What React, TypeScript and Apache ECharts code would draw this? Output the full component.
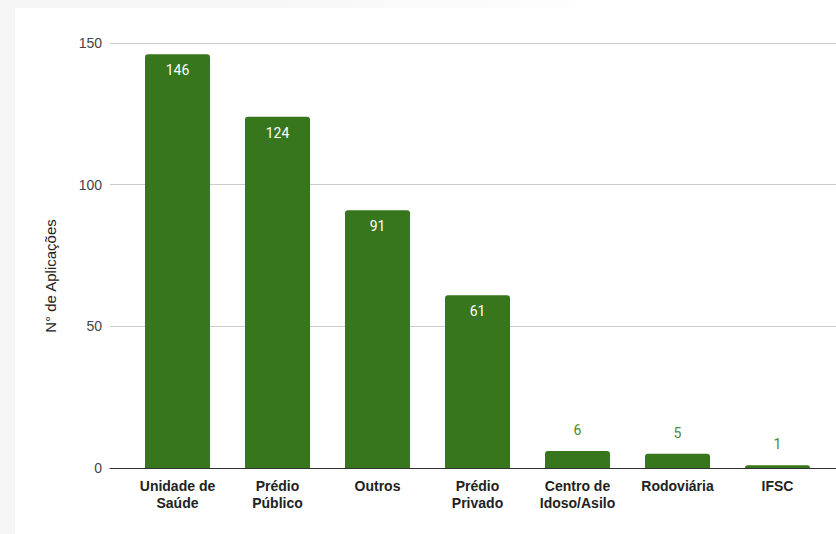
import React, { useEffect, useRef } from "react";
import * as echarts from "echarts";

const categories = [
  "Unidade de\nSaúde",
  "Prédio\nPúblico",
  "Outros",
  "Prédio\nPrivado",
  "Centro de\nIdoso/Asilo",
  "Rodoviária",
  "IFSC",
];
const values = [146, 124, 91, 61, 6, 5, 1];
const yTicks = [0, 50, 100, 150];
const yName = "N° de Aplicações";

const GREEN = "#38761d";

export default function App() {
  const ref = useRef<HTMLDivElement>(null);
  useEffect(() => {
    if (!ref.current) return;
    const chart = echarts.init(ref.current, undefined, { renderer: "svg" });
    const yMin = yTicks[0];
    const yMax = yTicks[yTicks.length - 1];
    const interval = yTicks[1] - yTicks[0];
    chart.setOption({
      animation: false,
      backgroundColor: "#ffffff",
      grid: [
        { left: 95, right: 0, top: 35, bottom: 66 },
        { left: 112.5, right: 8.5, top: 35, bottom: 66 },
      ],
      xAxis: [
        {
          gridIndex: 0,
          type: "category",
          data: categories,
          axisLine: { show: true, lineStyle: { color: "#333333", width: 1 } },
          axisTick: { show: false },
          axisLabel: { show: false },
        },
        {
          gridIndex: 1,
          type: "category",
          data: categories,
          axisLine: { show: false },
          axisTick: { show: false },
          axisLabel: {
            interval: 0,
            margin: 9,
            color: "#222222",
            fontSize: 14,
            fontWeight: "bold",
            fontFamily: "Liberation Sans, Arial, sans-serif",
            lineHeight: 17,
          },
        },
      ],
      yAxis: [
        {
          gridIndex: 0,
          type: "value",
          min: yMin,
          max: yMax,
          interval: interval,
          axisLine: { show: false },
          axisTick: { show: false },
          axisLabel: {
            margin: 8,
            color: "#444444",
            fontSize: 14,
            fontFamily: "Liberation Sans, Arial, sans-serif",
          },
          splitLine: { lineStyle: { color: "#cccccc", width: 1 } },
        },
        {
          gridIndex: 1,
          type: "value",
          min: yMin,
          max: yMax,
          interval: interval,
          show: false,
          splitLine: { show: false },
        },
      ],
      graphic: [
        {
          type: "text",
          x: 35,
          y: 268,
          rotation: Math.PI / 2,
          style: {
            text: yName,
            fill: "#222222",
            fontSize: 15,
            fontFamily: "Liberation Sans, Arial, sans-serif",
            align: "center",
            verticalAlign: "middle",
          },
        },
      ],
      series: [
        {
          type: "bar",
          xAxisIndex: 1,
          yAxisIndex: 1,
          barWidth: 65,
          data: values.map((v) => {
            const inside = v > 20;
            return {
              value: v,
              label: inside
                ? { position: "insideTop", distance: 9, color: "#ffffff" }
                : { position: "top", distance: 14, color: "#4a8a2c" },
            };
          }),
          itemStyle: { color: GREEN, borderRadius: [3, 3, 0, 0] },
          label: {
            show: true,
            fontSize: 14,
            fontFamily: "Roboto, sans-serif",
          },
        },
      ],
    });
    return () => chart.dispose();
  }, []);
  return (
    <div
      style={{
        position: "absolute",
        left: 0,
        top: 0,
        width: 836,
        height: 534,
        background: "#ffffff",
        overflow: "hidden",
      }}
    >
      <div
        style={{
          position: "absolute",
          left: 0,
          top: 0,
          width: 836,
          height: 8,
          background:
            "linear-gradient(to right, #f5f5f5 0px, #f8f8f8 340px, #fdfdfd 560px, #ffffff 590px)",
        }}
      />
      <div
        style={{
          position: "absolute",
          left: 0,
          top: 0,
          width: 15,
          height: 534,
          background: "#f5f5f5",
        }}
      />
      <div
        ref={ref}
        style={{
          position: "absolute",
          left: 15,
          top: 8,
          width: 821,
          height: 526,
          background: "#ffffff",
        }}
      />
    </div>
  );
}
